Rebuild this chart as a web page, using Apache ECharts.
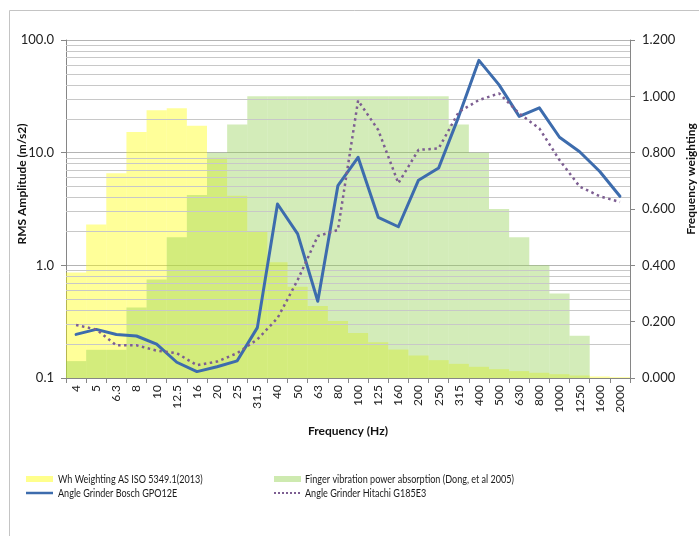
<!DOCTYPE html>
<html>
<head>
<meta charset="utf-8">
<script src="https://cdn.jsdelivr.net/npm/echarts@6/dist/echarts.min.js"></script>
<style>
  html, body { margin: 0; padding: 0; background: #ffffff; }
  #chart { width: 699px; height: 536px; }
</style>
</head>
<body>
<div id="chart"></div>
<script>
// One-third octave band centre frequencies (Hz)
const frequencies = ['4', '5', '6.3', '8', '10', '12.5', '16', '20', '25', '31.5', '40', '50', '63', '80',
  '100', '125', '160', '200', '250', '315', '400', '500', '630', '800', '1000', '1250', '1600', '2000'];

// Wh frequency weighting, AS ISO 5349.1(2013)
const whWeighting = [0.375, 0.545, 0.727, 0.873, 0.951, 0.958, 0.896, 0.782, 0.647, 0.519, 0.411, 0.324,
  0.256, 0.202, 0.160, 0.127, 0.101, 0.0799, 0.0634, 0.0503, 0.0398, 0.0314, 0.0245, 0.0186, 0.0135,
  0.00894, 0.00536, 0.00295];

// Finger vibration power absorption weighting (Dong, et al 2005)
const fingerAbsorption = [0.06, 0.10, 0.10, 0.25, 0.35, 0.50, 0.65, 0.80, 0.90, 1.0, 1.0, 1.0, 1.0, 1.0,
  1.0, 1.0, 1.0, 1.0, 1.0, 0.90, 0.80, 0.60, 0.50, 0.40, 0.30, 0.15, 0, 0];

// RMS acceleration spectra (m/s2)
const boschRms = [0.244, 0.270, 0.243, 0.236, 0.200, 0.138, 0.114, 0.126, 0.142, 0.28, 3.5, 1.9, 0.48, 5.1,
  9.1, 2.67, 2.2, 5.7, 7.3, 21, 66, 40, 21, 25, 13.7, 10.2, 6.8, 4.1];
const hitachiRms = [0.295, 0.27, 0.195, 0.195, 0.175, 0.166, 0.130, 0.140, 0.166, 0.22, 0.34, 0.74, 1.82, 2.06,
  29, 15.9, 5.35, 10.6, 10.9, 23, 29.3, 33.6, 22.3, 16.4, 8.6, 5.0, 4.1, 3.65];

// Minor gridlines of the logarithmic amplitude axis
const logMinorTicks = [0.2, 0.3, 0.4, 0.5, 0.6, 0.7, 0.8, 0.9, 2, 3, 4, 5, 6, 7, 8, 9,
  20, 30, 40, 50, 60, 70, 80, 90];

const seriesNames = {
  wh: 'Wh Weighting AS ISO 5349.1(2013)',
  finger: 'Finger vibration power absorption (Dong, et al 2005)',
  bosch: 'Angle Grinder Bosch GPO12E',
  hitachi: 'Angle Grinder Hitachi G185E3'
};

const colors = {
  wh: 'rgba(255,255,0,0.40)',
  finger: 'rgba(146,208,80,0.40)',
  bosch: '#3d6cad',
  hitachi: '#7d5e92'
};

const tickFont = 'Lato, "Open Sans", sans-serif';
const axisGrey = '#868686';

// Legend text is set in a condensed face: squeeze Lato horizontally
const legendFontSize = 12;
const measureCtx = document.createElement('canvas').getContext('2d');
measureCtx.font = legendFontSize + 'px Lato';
const legendSqueeze = 209 / measureCtx.measureText(seriesNames.finger).width;

function legendLabel(text, x, y) {
  return {
    type: 'text', x: x, y: y, scaleX: legendSqueeze, silent: true,
    style: {
      text: text, fontFamily: 'Lato', fontSize: legendFontSize, fill: '#1a1a1a',
      align: 'left', verticalAlign: 'middle'
    }
  };
}

const chart = echarts.init(document.getElementById('chart'), null, { renderer: 'canvas' });

chart.setOption({
  animation: false,
  backgroundColor: '#ffffff',
  grid: { left: 66, right: 69, top: 40, bottom: 158, containLabel: false },
  xAxis: {
    type: 'category',
    data: frequencies,
    boundaryGap: true,
    axisLine: { lineStyle: { color: axisGrey, width: 1 } },
    axisTick: { show: true, alignWithLabel: false, length: 5, lineStyle: { color: axisGrey } },
    axisLabel: { rotate: 90, interval: 0, margin: 7, fontFamily: tickFont, fontSize: 12, color: '#222' },
    splitLine: { show: false }
  },
  yAxis: [
    {
      type: 'log',
      logBase: 10,
      min: 0.1,
      max: 100,
      position: 'left',
      axisLine: { show: true, lineStyle: { color: axisGrey } },
      axisTick: { show: true, length: 5, lineStyle: { color: axisGrey } },
      axisLabel: {
        margin: 12, fontFamily: tickFont, fontSize: 13, color: '#222',
        formatter: v => Number(v).toFixed(1)
      },
      splitLine: { show: true, lineStyle: { color: '#b4b4b4', width: 1 } }
    },
    {
      type: 'value',
      min: 0,
      max: 1.2,
      interval: 0.2,
      position: 'right',
      axisLine: { show: true, lineStyle: { color: axisGrey } },
      axisTick: { show: true, length: 5, lineStyle: { color: axisGrey } },
      axisLabel: {
        margin: 12, fontFamily: tickFont, fontSize: 13, color: '#222',
        formatter: v => Number(v).toFixed(3)
      },
      splitLine: { show: false }
    }
  ],
  graphic: [
    {
      type: 'rect', z: -10, silent: true,
      shape: { x: 9.5, y: 10.5, width: 720, height: 560 },
      style: { fill: 'none', stroke: '#c4c4c4', lineWidth: 1 }
    },
    {
      type: 'text', x: 22, y: 184, rotation: Math.PI / 2, silent: true,
      style: {
        text: 'RMS Amplitude (m/s2)', fontFamily: tickFont, fontWeight: 'bold', fontSize: 12,
        fill: '#111', align: 'center', verticalAlign: 'middle'
      }
    },
    {
      type: 'text', x: 691, y: 179, rotation: Math.PI / 2, silent: true,
      style: {
        text: 'Frequency weighting', fontFamily: tickFont, fontWeight: 'bold', fontSize: 12,
        fill: '#111', align: 'center', verticalAlign: 'middle'
      }
    },
    {
      type: 'text', x: 348, y: 431, silent: true,
      style: {
        text: 'Frequency (Hz)', fontFamily: tickFont, fontWeight: 'bold', fontSize: 12,
        fill: '#111', align: 'center', verticalAlign: 'middle'
      }
    },
    // legend: two columns, two rows
    {
      type: 'rect', silent: true, shape: { x: 26, y: 476, width: 27, height: 6 },
      style: { fill: 'rgba(255,255,0,0.45)' }
    },
    legendLabel(seriesNames.wh, 58, 479),
    {
      type: 'rect', silent: true, shape: { x: 274, y: 476, width: 27, height: 6 },
      style: { fill: 'rgba(146,208,80,0.45)' }
    },
    legendLabel(seriesNames.finger, 305, 479),
    {
      type: 'line', silent: true, shape: { x1: 26, y1: 493, x2: 53, y2: 493 },
      style: { stroke: colors.bosch, lineWidth: 2.5 }
    },
    legendLabel(seriesNames.bosch, 58, 493),
    {
      type: 'line', silent: true, shape: { x1: 274, y1: 493, x2: 301, y2: 493 },
      style: { stroke: colors.hitachi, lineWidth: 2, lineDash: [2, 2] }
    },
    legendLabel(seriesNames.hitachi, 305, 493)
  ],
  series: [
    {
      // carries the minor gridlines of the log axis
      name: 'log-grid',
      type: 'line',
      yAxisIndex: 0,
      data: [],
      silent: true,
      z: 0,
      markLine: {
        silent: true,
        symbol: ['none', 'none'],
        label: { show: false },
        lineStyle: { color: '#c8c8c8', width: 1, type: 'solid' },
        emphasis: { disabled: true },
        data: logMinorTicks.map(v => ({ yAxis: v }))
      }
    },
    {
      name: seriesNames.wh,
      type: 'bar',
      yAxisIndex: 1,
      data: whWeighting,
      barGap: '-100%',
      barCategoryGap: '0%',
      z: 1,
      itemStyle: { color: colors.wh }
    },
    {
      name: seriesNames.finger,
      type: 'bar',
      yAxisIndex: 1,
      data: fingerAbsorption,
      barGap: '-100%',
      barCategoryGap: '0%',
      z: 1,
      itemStyle: { color: colors.finger }
    },
    {
      name: seriesNames.bosch,
      type: 'line',
      yAxisIndex: 0,
      data: boschRms,
      symbol: 'none',
      showSymbol: false,
      z: 5,
      lineStyle: { color: colors.bosch, width: 3, cap: 'round', join: 'round' }
    },
    {
      name: seriesNames.hitachi,
      type: 'line',
      yAxisIndex: 0,
      data: hitachiRms,
      symbol: 'none',
      showSymbol: false,
      z: 5,
      lineStyle: { color: colors.hitachi, width: 2.5, type: [2.5, 3.5], cap: 'butt' }
    }
  ]
});
</script>
</body>
</html>
